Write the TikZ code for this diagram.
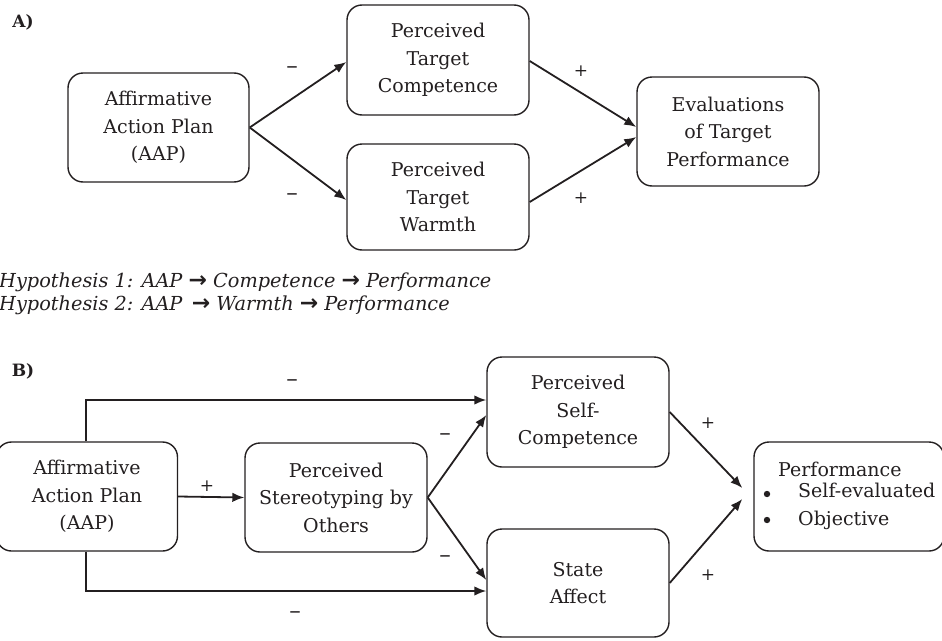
\documentclass[tikz,border=0pt]{standalone}
\usepackage{fontspec}
\setmainfont{DejaVu Serif}
\newfontfamily\arrowfont{DejaVu Sans}
\newcommand{\harr}{{\arrowfont\upshape\bfseries\fontsize{22}{23}\selectfont →}}
\usetikzlibrary{arrows.meta}
\definecolor{ink}{RGB}{35,31,32}
\begin{document}
\begin{tikzpicture}[x=1pt,y=-1pt,
  box/.style={draw=ink,line width=1.4pt,rounded corners=15pt,inner sep=0pt,align=center,text=ink,
    font=\fontsize{19}{27.5}\selectfont},
  conn/.style={draw=ink,line width=1.8pt,-{Latex[length=12pt,width=9.5pt]}},
  sgn/.style={text=ink,font=\fontsize{17}{19}\selectfont,inner sep=0pt},
  dsh/.style={text=ink,font=\fontsize{23}{25}\selectfont,inner sep=0pt},
  panel/.style={text=ink,font=\fontsize{17}{19}\selectfont\bfseries,inner sep=0pt},
  hyp/.style={text=ink,font=\fontsize{19.3}{23}\selectfont\itshape,inner sep=0pt,anchor=base west},
  ptxt/.style={text=ink,font=\fontsize{19}{24}\selectfont,inner sep=0pt,anchor=base west}]
\useasboundingbox (0,0) rectangle (942,640);
% Panel A
\node[panel] (labA) at (23,22) {A)};
\node[box,minimum width=181pt,minimum height=109pt] (aapA) at (158.5,127.5) {Affirmative\\Action Plan\\(AAP)};
\node[box,minimum width=182pt,minimum height=110pt] (compA) at (438,60) {Perceived\\Target\\Competence};
\node[box,minimum width=182pt,minimum height=106pt] (warmA) at (438,197) {Perceived\\Target\\Warmth};
\node[box,minimum width=182pt,minimum height=109pt] (evalA) at (728,131.5) {Evaluations\\of Target\\Performance};
\coordinate (eA1) at ([yshift=4.5pt]evalA.west);
\coordinate (eA2) at ([yshift=-5.5pt]evalA.west);
\draw[conn] (aapA.east) -- ([yshift=-2pt]compA.west);
\draw[conn] (aapA.east) -- ([yshift=-3pt]warmA.west);
\draw[conn] ([yshift=-1pt]compA.east) -- (eA1);
\draw[conn] ([yshift=-5pt]warmA.east) -- (eA2);
\node[dsh] (sA1) at (292,70) {–};
\node[dsh] (sA2) at (292,197) {–};
\node[sgn] (sA3) at (581,71) {+};
\node[sgn] (sA4) at (581,198) {+};
% Hypotheses
\node[hyp] (h1) at (-1,287) {Hypothesis 1: AAP \harr{} Competence \harr{} Performance};
\node[hyp] (h2) at (-1,310) {Hypothesis 2: AAP \,\harr{} Warmth \harr{} Performance};
% Panel B
\node[panel] (labB) at (23,371) {B)};
\node[box,minimum width=181pt,minimum height=109pt] (aapB) at (87,496.5) {Affirmative\\Action Plan\\(AAP)};
\node[box,minimum width=182pt,minimum height=109pt] (steB) at (336,497.5) {Perceived\\Stereotyping by\\Others};
\node[box,minimum width=182pt,minimum height=110pt] (selfB) at (578,412) {Perceived\\Self-\\Competence};
\node[box,minimum width=182pt,minimum height=108pt] (affB) at (578,583) {State\\Affect};
\node[box,minimum width=190pt,minimum height=109pt] (perfB) at (849,496.5) {};
\node[ptxt] (pt0) at (778,476) {Performance};
\node[ptxt] (pt1) at (798,497) {Self-evaluated};
\node[ptxt] (pt2) at (798,525) {Objective};
\fill[ink] (767,494) circle (3.2pt);
\fill[ink] (767,520) circle (3.2pt);
\coordinate (pB1) at ([xshift=-11pt,yshift=8.5pt]perfB.west);
\coordinate (pB2) at ([xshift=-11pt,yshift=-2.5pt]perfB.west);
\draw[conn] ([xshift=-1pt]aapB.north) |- ([yshift=12pt]selfB.west);
\draw[conn] ([xshift=-1pt]aapB.south) |- ([yshift=-8pt]affB.west);
\draw[conn] (aapB.east) -- (steB.west);
\draw[conn] (steB.east) -- ([yshift=-3pt]selfB.west);
\draw[conn] (steB.east) -- ([yshift=3pt]affB.west);
\draw[conn] (selfB.east) -- (pB1);
\draw[conn] (affB.east) -- (pB2);
\node[dsh] (sB1) at (292,383) {–};
\node[dsh] (sB2) at (295,615) {–};
\node[sgn] (sB3) at (207,486) {+};
\node[dsh] (sB4) at (445,437) {–};
\node[dsh] (sB5) at (445,559) {–};
\node[sgn] (sB6) at (708,423) {+};
\node[sgn] (sB7) at (708,575) {+};
\end{tikzpicture}
\end{document}
